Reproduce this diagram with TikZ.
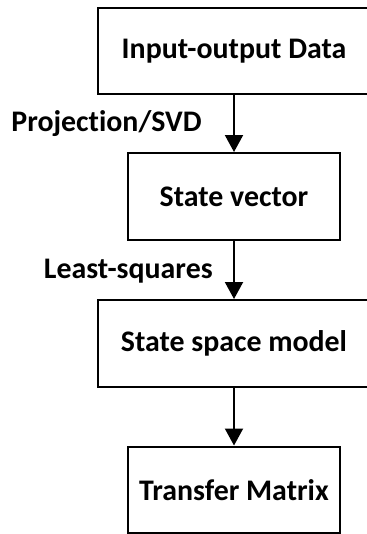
\documentclass[tikz,border=0pt]{standalone}
\usepackage{fontspec}
\setmainfont{Carlito}[Ligatures=NoCommon]
\usepackage{tikz}
\usetikzlibrary{arrows.meta}

\tikzset{
  stagebox/.style={rectangle,draw=black,line width=0.04cm,fill=white,text=black,minimum height=1.74cm,align=center,font=\fontsize{17}{20}\bfseries\selectfont},
  flow/.style={-{Triangle[width=0.36cm,length=0.34cm]},draw=black,line width=0.04cm},
  steplabel/.style={font=\fontsize{17}{20}\bfseries\selectfont,text=black,inner sep=0pt}
}

\begin{document}
\begin{tikzpicture}[x=0.02cm,y=-0.02cm]
\useasboundingbox[clip] (0,0) rectangle (367,534);
\node[stagebox,minimum width=5.44cm] (data) at (234,51) {Input-output Data};
\node[stagebox,minimum width=4.24cm] (state) at (234,196.5) {State vector};
\node[stagebox,minimum width=5.44cm] (ssm) at (234,343.5) {State space model};
\node[stagebox,minimum width=4.24cm] (tf) at (234,490) {Transfer Matrix};
\draw[flow] (data) -- (state);
\draw[flow] (state) -- (ssm);
\draw[flow] (ssm) -- (tf);
% method labels beside the first two arrows
\node[steplabel,anchor=base east] (proj) at (202,131.7) {Projection/SVD};
\node[steplabel,anchor=base east] (ls) at (213,278) {Least-squares};
\end{tikzpicture}
\end{document}
